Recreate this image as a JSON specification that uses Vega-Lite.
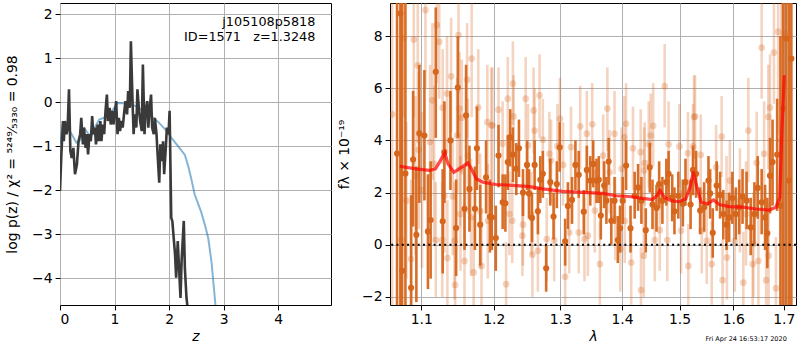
{
"$schema": "https://vega.github.io/schema/vega-lite/v6.json",
"padding": {"left": 5, "top": 2, "right": 0, "bottom": 0},
"autosize": {"type": "pad"},
"spacing": 5,
"datasets": {
"pz": [{"z":0,"p":-2.02},{"z":0.025,"p":-1.19},{"z":0.055,"p":-0.43},{"z":0.07,"p":-0.89},{"z":0.09,"p":-0.43},{"z":0.12,"p":-0.73},{"z":0.14,"p":-0.58},{"z":0.165,"p":0.29},{"z":0.19,"p":-1.11},{"z":0.215,"p":-1.27},{"z":0.245,"p":-1.04},{"z":0.275,"p":-1.64},{"z":0.31,"p":-1.42},{"z":0.34,"p":-0.89},{"z":0.37,"p":-0.73},{"z":0.39,"p":-0.36},{"z":0.42,"p":-0.96},{"z":0.44,"p":-0.58},{"z":0.47,"p":-1.04},{"z":0.49,"p":-0.73},{"z":0.515,"p":-1.19},{"z":0.54,"p":-0.73},{"z":0.565,"p":-0.89},{"z":0.59,"p":-0.32},{"z":0.61,"p":-0.73},{"z":0.64,"p":-0.58},{"z":0.66,"p":-0.96},{"z":0.69,"p":-0.51},{"z":0.71,"p":-0.89},{"z":0.74,"p":-0.43},{"z":0.76,"p":-0.89},{"z":0.785,"p":-0.51},{"z":0.81,"p":-0.73},{"z":0.835,"p":-0.2},{"z":0.86,"p":0.17},{"z":0.88,"p":-0.43},{"z":0.91,"p":-0.13},{"z":0.93,"p":-0.51},{"z":0.96,"p":-0.2},{"z":0.98,"p":-0.51},{"z":1.01,"p":-0.2},{"z":1.03,"p":0.02},{"z":1.055,"p":-0.73},{"z":1.08,"p":-0.36},{"z":1.1,"p":-0.66},{"z":1.13,"p":-0.43},{"z":1.15,"p":-0.58},{"z":1.18,"p":-0.2},{"z":1.2,"p":0.02},{"z":1.23,"p":-0.28},{"z":1.25,"p":0.25},{"z":1.28,"p":-0.13},{"z":1.3,"p":1.38},{"z":1.33,"p":0.02},{"z":1.35,"p":-0.73},{"z":1.37,"p":-0.28},{"z":1.4,"p":-0.58},{"z":1.42,"p":0.29},{"z":1.45,"p":-0.2},{"z":1.47,"p":-0.43},{"z":1.5,"p":-0.66},{"z":1.52,"p":0.85},{"z":1.55,"p":-0.73},{"z":1.57,"p":-0.2},{"z":1.6,"p":0.02},{"z":1.62,"p":-0.58},{"z":1.64,"p":-0.2},{"z":1.67,"p":0.17},{"z":1.69,"p":-0.58},{"z":1.72,"p":-0.73},{"z":1.74,"p":-0.36},{"z":1.77,"p":-0.73},{"z":1.79,"p":-1.19},{"z":1.82,"p":-1.83},{"z":1.84,"p":-0.96},{"z":1.87,"p":-1.34},{"z":1.89,"p":-0.89},{"z":1.91,"p":-1.64},{"z":1.94,"p":-1.04},{"z":1.96,"p":-0.58},{"z":1.99,"p":-0.73},{"z":2.01,"p":-0.2},{"z":2.04,"p":-2.63},{"z":2.06,"p":-2.7},{"z":2.09,"p":-3.16},{"z":2.11,"p":-3.46},{"z":2.13,"p":-3.99},{"z":2.16,"p":-3.16},{"z":2.18,"p":-3.69},{"z":2.21,"p":-4.45},{"z":2.23,"p":-3.61},{"z":2.27,"p":-2.7},{"z":2.29,"p":-3.77},{"z":2.32,"p":-4.45},{"z":2.34,"p":-4.67},{"z":2.36,"p":-5.0}],
"pzb": [{"z":0,"p":-0.95},{"z":0.05,"p":-0.5},{"z":0.12,"p":-0.6},{"z":0.2,"p":-0.7},{"z":0.3,"p":-0.92},{"z":0.36,"p":-0.88},{"z":0.45,"p":-0.6},{"z":0.52,"p":-0.72},{"z":0.57,"p":-0.8},{"z":0.65,"p":-0.55},{"z":0.72,"p":-0.4},{"z":0.82,"p":-0.35},{"z":0.94,"p":-0.22},{"z":1.06,"p":-0.02},{"z":1.2,"p":-0.03},{"z":1.37,"p":-0.08},{"z":1.5,"p":-0.18},{"z":1.65,"p":-0.3},{"z":1.8,"p":-0.45},{"z":1.95,"p":-0.65},{"z":2.04,"p":-0.81},{"z":2.15,"p":-0.98},{"z":2.29,"p":-1.2},{"z":2.35,"p":-1.45},{"z":2.4,"p":-1.7},{"z":2.47,"p":-2.1},{"z":2.59,"p":-2.5},{"z":2.67,"p":-2.85},{"z":2.72,"p":-3.1},{"z":2.78,"p":-3.65},{"z":2.85,"p":-4.6},{"z":2.9,"p":-5.2}],
"dark": [{"l":1.0727,"f":8.87,"lo":-20,"hi":30},{"l":1.0684,"f":3.5,"lo":-20,"hi":30},{"l":1.0792,"f":2.73,"lo":-20,"hi":30},{"l":1.0749,"f":-1.0,"lo":-20,"hi":30},{"l":1.0866,"f":-1.65,"lo":-5.2,"hi":1.9},{"l":1.0892,"f":3.27,"lo":0.7,"hi":5.9},{"l":1.0935,"f":0.38,"lo":-2.2,"hi":3.0},{"l":1.0974,"f":4.27,"lo":1.6,"hi":6.9},{"l":1.1041,"f":4.19,"lo":1.7,"hi":6.7},{"l":1.1088,"f":0.51,"lo":-1.7,"hi":2.7},{"l":1.1124,"f":0.95,"lo":-1.3,"hi":3.2},{"l":1.1193,"f":6.63,"lo":4.1,"hi":9.1},{"l":1.1286,"f":0.9,"lo":-1.1,"hi":2.9},{"l":1.1309,"f":3.55,"lo":1.6,"hi":5.5},{"l":1.1392,"f":4.0,"lo":2.1,"hi":5.9},{"l":1.147,"f":0.64,"lo":-1.2,"hi":2.5},{"l":1.1493,"f":6.03,"lo":4.1,"hi":8.0},{"l":1.1586,"f":1.38,"lo":-0.2,"hi":3.0},{"l":1.1608,"f":4.96,"lo":3.0,"hi":6.9},{"l":1.1655,"f":2.14,"lo":0.5,"hi":3.8},{"l":1.1732,"f":1.38,"lo":-0.2,"hi":3.0},{"l":1.176,"f":3.7,"lo":2.1,"hi":5.3},{"l":1.1807,"f":0.77,"lo":-0.8,"hi":2.3},{"l":1.189,"f":2.59,"lo":1.2,"hi":4.0},{"l":1.1945,"f":1.08,"lo":-0.3,"hi":2.5},{"l":1.1972,"f":1.05,"lo":-0.2,"hi":2.3},{"l":1.203,"f":0.26,"lo":-1.0,"hi":1.5},{"l":1.2069,"f":3.42,"lo":2.2,"hi":4.6},{"l":1.2129,"f":1.63,"lo":0.6,"hi":2.7},{"l":1.2169,"f":1.59,"lo":0.5,"hi":2.7},{"l":1.2204,"f":3.17,"lo":2.1,"hi":4.2},{"l":1.224,"f":4.13,"lo":3.0,"hi":5.2},{"l":1.2279,"f":3.46,"lo":2.4,"hi":4.5},{"l":1.233,"f":2.91,"lo":1.9,"hi":3.9},{"l":1.2369,"f":3.7,"lo":2.6,"hi":4.8},{"l":1.2429,"f":2.0,"lo":1.1,"hi":2.9},{"l":1.2489,"f":3.06,"lo":2.1,"hi":4.0},{"l":1.2519,"f":1.97,"lo":1.0,"hi":2.9},{"l":1.2564,"f":1.03,"lo":0.1,"hi":2.0},{"l":1.2604,"f":3.06,"lo":2.1,"hi":4.0},{"l":1.2654,"f":1.28,"lo":0.4,"hi":2.2},{"l":1.269,"f":2.49,"lo":1.6,"hi":3.4},{"l":1.2729,"f":2.72,"lo":1.8,"hi":3.6},{"l":1.278,"f":-0.9,"lo":-1.8,"hi":0.0},{"l":1.2844,"f":2.4,"lo":1.5,"hi":3.3},{"l":1.2894,"f":1.08,"lo":0.2,"hi":2.0},{"l":1.2945,"f":2.33,"lo":1.4,"hi":3.2},{"l":1.299,"f":3.74,"lo":2.8,"hi":4.7},{"l":1.3075,"f":0.13,"lo":-0.8,"hi":1.0},{"l":1.3118,"f":1.49,"lo":0.6,"hi":2.4},{"l":1.3183,"f":1.72,"lo":0.8,"hi":2.6},{"l":1.3237,"f":3.06,"lo":2.1,"hi":4.0},{"l":1.329,"f":2.68,"lo":1.8,"hi":3.6},{"l":1.3371,"f":1.27,"lo":0.4,"hi":2.1},{"l":1.342,"f":2.87,"lo":2.0,"hi":3.8},{"l":1.3475,"f":2.46,"lo":1.5,"hi":3.4},{"l":1.3523,"f":3.1,"lo":2.2,"hi":4.0},{"l":1.3577,"f":2.46,"lo":1.6,"hi":3.3},{"l":1.3614,"f":2.49,"lo":1.6,"hi":3.4},{"l":1.3647,"f":1.12,"lo":0.2,"hi":2.0},{"l":1.3702,"f":2.27,"lo":1.4,"hi":3.2},{"l":1.3739,"f":1.69,"lo":0.8,"hi":2.6},{"l":1.3776,"f":3.19,"lo":2.3,"hi":4.1},{"l":1.382,"f":0.92,"lo":0.0,"hi":1.8},{"l":1.3874,"f":1.69,"lo":0.8,"hi":2.6},{"l":1.3929,"f":0.18,"lo":-0.7,"hi":1.1},{"l":1.3966,"f":0.63,"lo":-0.3,"hi":1.5},{"l":1.401,"f":1.69,"lo":0.8,"hi":2.6},{"l":1.4068,"f":3.04,"lo":2.1,"hi":4.0},{"l":1.4143,"f":0.63,"lo":-0.3,"hi":1.5},{"l":1.4213,"f":1.88,"lo":1.0,"hi":2.8},{"l":1.4272,"f":2.2,"lo":1.3,"hi":3.1},{"l":1.4329,"f":1.69,"lo":0.8,"hi":2.6},{"l":1.4404,"f":0.56,"lo":-0.3,"hi":1.4},{"l":1.4474,"f":2.97,"lo":2.0,"hi":3.9},{"l":1.4521,"f":1.54,"lo":0.6,"hi":2.5},{"l":1.4591,"f":1.41,"lo":0.5,"hi":2.3},{"l":1.4638,"f":2.33,"lo":1.4,"hi":3.2},{"l":1.4695,"f":1.69,"lo":0.8,"hi":2.6},{"l":1.4765,"f":2.4,"lo":1.5,"hi":3.3},{"l":1.4805,"f":2.72,"lo":1.8,"hi":3.6},{"l":1.4869,"f":1.82,"lo":0.9,"hi":2.7},{"l":1.4909,"f":1.28,"lo":0.4,"hi":2.2},{"l":1.4979,"f":1.88,"lo":1.0,"hi":2.8},{"l":1.506,"f":1.57,"lo":0.7,"hi":2.5},{"l":1.5108,"f":2.4,"lo":1.5,"hi":3.3},{"l":1.5201,"f":1.54,"lo":0.6,"hi":2.5},{"l":1.5246,"f":2.87,"lo":1.9,"hi":3.8},{"l":1.5302,"f":2.72,"lo":1.8,"hi":3.6},{"l":1.5376,"f":1.31,"lo":0.4,"hi":2.2},{"l":1.5451,"f":1.44,"lo":0.5,"hi":2.4},{"l":1.5531,"f":2.46,"lo":1.5,"hi":3.4},{"l":1.5562,"f":1.97,"lo":1.0,"hi":2.9},{"l":1.5611,"f":0.46,"lo":-0.5,"hi":1.4},{"l":1.5685,"f":2.27,"lo":1.3,"hi":3.2},{"l":1.5749,"f":1.91,"lo":1.0,"hi":2.8},{"l":1.581,"f":1.18,"lo":0.2,"hi":2.1},{"l":1.5872,"f":0.77,"lo":-0.2,"hi":1.7},{"l":1.5922,"f":1.05,"lo":0.1,"hi":2.0},{"l":1.5983,"f":1.79,"lo":0.8,"hi":2.8},{"l":1.605,"f":1.18,"lo":0.2,"hi":2.2},{"l":1.6115,"f":1.44,"lo":0.4,"hi":2.5},{"l":1.618,"f":1.85,"lo":0.8,"hi":2.9},{"l":1.6259,"f":1.69,"lo":0.6,"hi":2.8},{"l":1.6339,"f":0.67,"lo":-0.4,"hi":1.8},{"l":1.6412,"f":1.18,"lo":0.0,"hi":2.4},{"l":1.6477,"f":2.18,"lo":1.0,"hi":3.4},{"l":1.6556,"f":1.63,"lo":0.4,"hi":2.9},{"l":1.6624,"f":1.05,"lo":-0.2,"hi":2.3},{"l":1.6669,"f":0.44,"lo":-0.9,"hi":1.8},{"l":1.6723,"f":2.65,"lo":1.2,"hi":4.1},{"l":1.6774,"f":3.17,"lo":1.5,"hi":4.8},{"l":1.6867,"f":3.46,"lo":1.3,"hi":5.6},{"l":1.6933,"f":1.5,"lo":-3.0,"hi":8.0},{"l":1.6986,"f":5.22,"lo":-20,"hi":30},{"l":1.7054,"f":7.91,"lo":-20,"hi":30},{"l":1.7109,"f":2.46,"lo":-20,"hi":30},{"l":1.7157,"f":7.14,"lo":-20,"hi":30}],
"light": [{"l":1.062,"f":5.0,"lo":-20,"hi":30},{"l":1.1055,"f":9.0,"lo":6.0,"hi":12.0},{"l":1.1207,"f":8.42,"lo":6.2,"hi":10.6},{"l":1.124,"f":7.78,"lo":5.6,"hi":10.0},{"l":1.0771,"f":7.91,"lo":4.9,"hi":10.9},{"l":1.0901,"f":7.87,"lo":4.9,"hi":10.9},{"l":1.0953,"f":6.88,"lo":3.9,"hi":9.9},{"l":1.1503,"f":8.04,"lo":5.8,"hi":10.2},{"l":1.1401,"f":6.46,"lo":4.3,"hi":8.7},{"l":1.1622,"f":6.33,"lo":4.1,"hi":8.5},{"l":1.1686,"f":7.14,"lo":4.9,"hi":9.3},{"l":1.1148,"f":5.54,"lo":2.5,"hi":8.5},{"l":1.1345,"f":5.8,"lo":3.6,"hi":8.0},{"l":1.1286,"f":5.26,"lo":3.1,"hi":7.5},{"l":1.1517,"f":5.22,"lo":3.0,"hi":7.4},{"l":1.1779,"f":5.26,"lo":3.1,"hi":7.5},{"l":1.1548,"f":4.87,"lo":2.7,"hi":7.1},{"l":1.1908,"f":4.7,"lo":2.5,"hi":6.9},{"l":1.1963,"f":4.58,"lo":2.4,"hi":6.8},{"l":1.1483,"f":4.19,"lo":2.0,"hi":6.4},{"l":1.1116,"f":3.94,"lo":0.9,"hi":6.9},{"l":1.0966,"f":3.64,"lo":0.6,"hi":6.6},{"l":1.1631,"f":3.42,"lo":1.2,"hi":5.6},{"l":1.0922,"f":2.65,"lo":-0.4,"hi":5.7},{"l":1.1525,"f":2.91,"lo":0.7,"hi":5.1},{"l":1.1171,"f":3.1,"lo":0.1,"hi":6.1},{"l":1.1309,"f":1.88,"lo":-0.3,"hi":4.1},{"l":1.0805,"f":1.69,"lo":-1.3,"hi":4.7},{"l":1.101,"f":2.1,"lo":-0.9,"hi":5.1},{"l":1.1424,"f":1.85,"lo":-0.4,"hi":4.1},{"l":1.153,"f":1.18,"lo":-1.0,"hi":3.4},{"l":1.1677,"f":1.05,"lo":-1.2,"hi":3.3},{"l":1.1807,"f":1.28,"lo":-0.9,"hi":3.5},{"l":1.1915,"f":0.92,"lo":-1.3,"hi":3.1},{"l":1.0736,"f":0.18,"lo":-2.8,"hi":3.2},{"l":1.1193,"f":0.18,"lo":-2.0,"hi":2.4},{"l":1.128,"f":0.18,"lo":-2.0,"hi":2.4},{"l":1.1448,"f":0.15,"lo":-2.1,"hi":2.4},{"l":1.0866,"f":-0.55,"lo":-3.6,"hi":2.5},{"l":1.135,"f":-0.51,"lo":-2.7,"hi":1.7},{"l":1.1586,"f":-0.62,"lo":-2.8,"hi":1.6},{"l":1.1714,"f":-1.06,"lo":-3.3,"hi":1.1},{"l":1.1456,"f":-1.54,"lo":-3.7,"hi":0.7},{"l":1.1825,"f":-0.81,"lo":-3.0,"hi":1.4},{"l":1.2279,"f":6.18,"lo":4.6,"hi":7.8},{"l":1.2469,"f":5.6,"lo":4.0,"hi":7.2},{"l":1.2679,"f":5.73,"lo":4.1,"hi":7.3},{"l":1.2204,"f":5.6,"lo":4.0,"hi":7.2},{"l":1.2069,"f":5.18,"lo":3.6,"hi":6.8},{"l":1.2589,"f":5.15,"lo":3.5,"hi":6.8},{"l":1.2289,"f":4.92,"lo":3.3,"hi":6.5},{"l":1.1981,"f":4.58,"lo":2.4,"hi":6.8},{"l":1.2604,"f":4.38,"lo":2.8,"hi":6.0},{"l":1.2729,"f":4.03,"lo":2.4,"hi":5.6},{"l":1.2954,"f":3.78,"lo":2.2,"hi":5.4},{"l":1.2994,"f":4.83,"lo":3.2,"hi":6.4},{"l":1.3167,"f":3.74,"lo":2.1,"hi":5.3},{"l":1.3313,"f":4.54,"lo":2.9,"hi":6.1},{"l":1.342,"f":4.26,"lo":2.7,"hi":5.9},{"l":1.3507,"f":4.62,"lo":3.0,"hi":6.2},{"l":1.2129,"f":3.87,"lo":2.3,"hi":5.5},{"l":1.2504,"f":3.81,"lo":2.2,"hi":5.4},{"l":1.2829,"f":3.49,"lo":1.9,"hi":5.1},{"l":1.2855,"f":3.23,"lo":1.6,"hi":4.8},{"l":1.3042,"f":3.06,"lo":1.5,"hi":4.7},{"l":1.2229,"f":1.18,"lo":-0.4,"hi":2.8},{"l":1.227,"f":0.92,"lo":-0.7,"hi":2.5},{"l":1.2429,"f":0.77,"lo":-0.8,"hi":2.4},{"l":1.242,"f":0.35,"lo":-1.2,"hi":2.0},{"l":1.2555,"f":1.18,"lo":-0.4,"hi":2.8},{"l":1.2789,"f":0.22,"lo":-1.4,"hi":1.8},{"l":1.2904,"f":0.18,"lo":-1.4,"hi":1.8},{"l":1.3139,"f":0.47,"lo":-1.1,"hi":2.1},{"l":1.329,"f":0.47,"lo":-1.1,"hi":2.1},{"l":1.3382,"f":0.22,"lo":-1.4,"hi":1.8},{"l":1.257,"f":-0.38,"lo":-2.0,"hi":1.2},{"l":1.2654,"f":-0.23,"lo":-1.8,"hi":1.4},{"l":1.218,"f":-1.51,"lo":-3.1,"hi":0.1},{"l":1.3075,"f":-1.23,"lo":-2.8,"hi":0.4},{"l":1.3436,"f":0.35,"lo":-1.2,"hi":2.0},{"l":1.4735,"f":6.08,"lo":4.5,"hi":7.7},{"l":1.3755,"f":5.22,"lo":3.6,"hi":6.8},{"l":1.4533,"f":4.56,"lo":3.0,"hi":6.2},{"l":1.4068,"f":4.64,"lo":3.0,"hi":6.2},{"l":1.3874,"f":4.26,"lo":2.7,"hi":5.9},{"l":1.4491,"f":4.19,"lo":2.6,"hi":5.8},{"l":1.4038,"f":4.13,"lo":2.5,"hi":5.7},{"l":1.4185,"f":3.7,"lo":2.1,"hi":5.3},{"l":1.4456,"f":3.85,"lo":2.2,"hi":5.5},{"l":1.4805,"f":3.85,"lo":2.2,"hi":5.5},{"l":1.4997,"f":3.77,"lo":2.2,"hi":5.4},{"l":1.5246,"f":3.77,"lo":2.2,"hi":5.4},{"l":1.5264,"f":4.9,"lo":3.3,"hi":6.5},{"l":1.3686,"f":3.42,"lo":1.8,"hi":5.0},{"l":1.4317,"f":3.55,"lo":1.9,"hi":5.2},{"l":1.3792,"f":2.78,"lo":1.2,"hi":4.4},{"l":1.4387,"f":3.13,"lo":1.5,"hi":4.7},{"l":1.4376,"f":2.85,"lo":1.2,"hi":4.5},{"l":1.3993,"f":2.91,"lo":1.3,"hi":4.5},{"l":1.5153,"f":3.51,"lo":1.9,"hi":5.1},{"l":1.3549,"f":1.31,"lo":-0.3,"hi":2.9},{"l":1.3885,"f":0.99,"lo":-0.6,"hi":2.6},{"l":1.4045,"f":0.92,"lo":-0.7,"hi":2.5},{"l":1.4648,"f":0.56,"lo":-1.0,"hi":2.2},{"l":1.5028,"f":0.54,"lo":-1.1,"hi":2.1},{"l":1.4561,"f":0.18,"lo":-1.4,"hi":1.8},{"l":1.4782,"f":0.18,"lo":-1.4,"hi":1.8},{"l":1.3971,"f":-0.17,"lo":-1.8,"hi":1.4},{"l":1.3631,"f":-0.74,"lo":-2.3,"hi":0.9},{"l":1.4155,"f":-0.68,"lo":-2.3,"hi":0.9},{"l":1.437,"f":-0.42,"lo":-2.0,"hi":1.2},{"l":1.4322,"f":-1.74,"lo":-3.3,"hi":-0.1},{"l":1.516,"f":-0.81,"lo":-2.4,"hi":0.8},{"l":1.6556,"f":7.56,"lo":5.6,"hi":9.6},{"l":1.6802,"f":7.37,"lo":5.4,"hi":9.4},{"l":1.6887,"f":8.17,"lo":4.2,"hi":12.2},{"l":1.6293,"f":4.38,"lo":2.4,"hi":6.4},{"l":1.5779,"f":4.15,"lo":2.6,"hi":5.7},{"l":1.5283,"f":4.92,"lo":3.3,"hi":6.5},{"l":1.6723,"f":5.26,"lo":3.3,"hi":7.3},{"l":1.6689,"f":4.9,"lo":2.9,"hi":6.9},{"l":1.6604,"f":3.49,"lo":1.5,"hi":5.5},{"l":1.6457,"f":3.14,"lo":1.1,"hi":5.1},{"l":1.5935,"f":2.46,"lo":0.9,"hi":4.0},{"l":1.5674,"f":2.97,"lo":1.4,"hi":4.6},{"l":1.5388,"f":3.45,"lo":1.9,"hi":5.0},{"l":1.5872,"f":1.82,"lo":0.2,"hi":3.4},{"l":1.6129,"f":1.69,"lo":-0.3,"hi":3.7},{"l":1.6248,"f":1.18,"lo":-0.8,"hi":3.2},{"l":1.5406,"f":0.54,"lo":-1.1,"hi":2.1},{"l":1.5499,"f":0.15,"lo":-1.5,"hi":1.8},{"l":1.603,"f":0.15,"lo":-1.8,"hi":2.1},{"l":1.6392,"f":0.03,"lo":-2.0,"hi":2.0},{"l":1.5592,"f":-0.74,"lo":-2.3,"hi":0.9},{"l":1.5797,"f":-1.36,"lo":-2.9,"hi":0.2},{"l":1.588,"f":-0.49,"lo":-2.1,"hi":1.1},{"l":1.6195,"f":-1.45,"lo":-3.4,"hi":0.5},{"l":1.6491,"f":-0.62,"lo":-2.6,"hi":1.4},{"l":1.6695,"f":-0.42,"lo":-2.4,"hi":1.6},{"l":1.6378,"f":-0.74,"lo":-2.7,"hi":1.3},{"l":1.6644,"f":-1.36,"lo":-3.4,"hi":0.6},{"l":1.6842,"f":-1.67,"lo":-3.7,"hi":0.3},{"l":1.695,"f":4.0,"lo":-20,"hi":30},{"l":1.702,"f":8.1,"lo":-20,"hi":30}],
"model": [{"l":1.0719,"f":3.01},{"l":1.0927,"f":2.91},{"l":1.1106,"f":2.85},{"l":1.1189,"f":2.91},{"l":1.1244,"f":3.17},{"l":1.1314,"f":3.53},{"l":1.1359,"f":3.1},{"l":1.1438,"f":2.78},{"l":1.1544,"f":2.97},{"l":1.1635,"f":3.14},{"l":1.1682,"f":2.91},{"l":1.1751,"f":2.53},{"l":1.1843,"f":2.4},{"l":1.203,"f":2.31},{"l":1.233,"f":2.27},{"l":1.2529,"f":2.23},{"l":1.2729,"f":2.14},{"l":1.3031,"f":2.05},{"l":1.3355,"f":2.01},{"l":1.3679,"f":1.97},{"l":1.3896,"f":1.88},{"l":1.412,"f":1.85},{"l":1.4352,"f":1.78},{"l":1.4516,"f":1.73},{"l":1.4596,"f":1.88},{"l":1.4655,"f":2.08},{"l":1.473,"f":1.82},{"l":1.4847,"f":1.69},{"l":1.4991,"f":1.65},{"l":1.5115,"f":1.76},{"l":1.519,"f":2.2},{"l":1.5251,"f":2.81},{"l":1.5302,"f":2.33},{"l":1.5395,"f":1.63},{"l":1.5518,"f":1.57},{"l":1.5624,"f":1.72},{"l":1.5736,"f":1.54},{"l":1.5922,"f":1.46},{"l":1.618,"f":1.44},{"l":1.6446,"f":1.37},{"l":1.6709,"f":1.33},{"l":1.6842,"f":1.44},{"l":1.6921,"f":1.82},{"l":1.696,"f":4.26},{"l":1.7012,"f":6.5}],
"one": [{"k": 1}]
},
"hconcat": [
{
"width": 271, "height": 302,
"layer": [
{"data": {"name": "pzb"}, "mark": {"type": "line", "color": "#1f77b4", "opacity": 0.55, "strokeWidth": 2, "clip": true},
 "encoding": {
  "x": {"field": "z", "type": "quantitative", "scale": {"domain": [0, 4.97], "nice": false, "zero": false}, "axis": {"values": [0,1,2,3,4], "title": "z", "titleFontStyle": "italic"}},
  "y": {"field": "p", "type": "quantitative", "scale": {"domain": [-4.61, 2.25], "nice": false, "zero": false}, "axis": {"values": [-4,-3,-2,-1,0,1,2], "title": "log p(z) / χ² = ⁵²⁴⁹⁄₅₃₃₀ = 0.98", "titlePadding": 12}}
 }},
{"data": {"name": "pz"}, "mark": {"type": "line", "color": "#3a3a3a", "strokeWidth": 2.6, "clip": true},
 "encoding": {"x": {"field": "z", "type": "quantitative"}, "y": {"field": "p", "type": "quantitative"}}},
{"data": {"name": "one"}, "mark": {"type": "text", "align": "right", "baseline": "alphabetic", "fontSize": 12.8, "lineHeight": 15, "color": "black"},
 "encoding": {"x": {"datum": 4.684}, "y": {"datum": 1.727}, "text": {"value": ["j105108p5818", "ID=1571\u00a0\u00a0\u00a0z=1.3248"]}}}
]
},
{
"width": 406, "height": 302,
"layer": [
{"data": {"name": "light"}, "mark": {"type": "rule", "color": "#d6661c", "opacity": 0.28, "strokeWidth": 2.6, "clip": true},
 "encoding": {
  "x": {"field": "l", "type": "quantitative", "scale": {"type": "log", "domain": [1.0594, 1.7253], "nice": false}, "axis": {"values": [1.1,1.2,1.3,1.4,1.5,1.6,1.7], "format": ".1f", "title": "λ", "titleFontStyle": "italic"}},
  "y": {"field": "lo", "type": "quantitative", "scale": {"domain": [-2.31, 9.27], "nice": false, "zero": false}, "axis": {"values": [-2,0,2,4,6,8], "title": "fλ × 10⁻¹⁹", "titlePadding": 10}},
  "y2": {"field": "hi"}
 }},
{"data": {"name": "light"}, "mark": {"type": "circle", "color": "#d6661c", "opacity": 0.28, "size": 45, "clip": true},
 "encoding": {"x": {"field": "l", "type": "quantitative"}, "y": {"field": "f", "type": "quantitative"}}},
{"data": {"name": "dark"}, "mark": {"type": "rule", "color": "#d6661c", "opacity": 0.95, "strokeWidth": 2.6, "clip": true},
 "encoding": {"x": {"field": "l", "type": "quantitative"}, "y": {"field": "lo", "type": "quantitative"}, "y2": {"field": "hi"}}},
{"data": {"name": "dark"}, "mark": {"type": "circle", "color": "#d6661c", "opacity": 1, "size": 38, "clip": true},
 "encoding": {"x": {"field": "l", "type": "quantitative"}, "y": {"field": "f", "type": "quantitative"}}},
{"data": {"name": "model"}, "mark": {"type": "line", "color": "#ff0000", "opacity": 0.7, "strokeWidth": 3.2, "clip": true},
 "encoding": {"x": {"field": "l", "type": "quantitative"}, "y": {"field": "f", "type": "quantitative"}}},
{"data": {"name": "one"}, "mark": {"type": "rule", "color": "black", "strokeWidth": 2, "strokeDash": [2, 3.3]},
 "encoding": {"y": {"datum": 0}}},
{"data": {"name": "one"}, "mark": {"type": "text", "align": "center", "baseline": "middle", "fontSize": 6.5, "color": "black"},
 "encoding": {"x": {"datum": 1.625}, "y": {"datum": -3.62}, "text": {"value": "Fri Apr 24 16:53:17 2020"}}}
]
}
],
"config": {
 "font": "DejaVu Sans",
 "view": {"stroke": "black", "strokeWidth": 1},
 "axis": {"grid": true, "gridColor": "#b0b0b0", "gridWidth": 1, "domain": false, "ticks": true, "tickColor": "black", "tickSize": 4.9, "labelPadding": 3, "labelFontSize": 13.9, "labelColor": "black", "titleFontSize": 13.9, "titleColor": "black", "titleFontWeight": "normal", "zindex": 1},
 "axisX": {"titlePadding": 3}
}
}
